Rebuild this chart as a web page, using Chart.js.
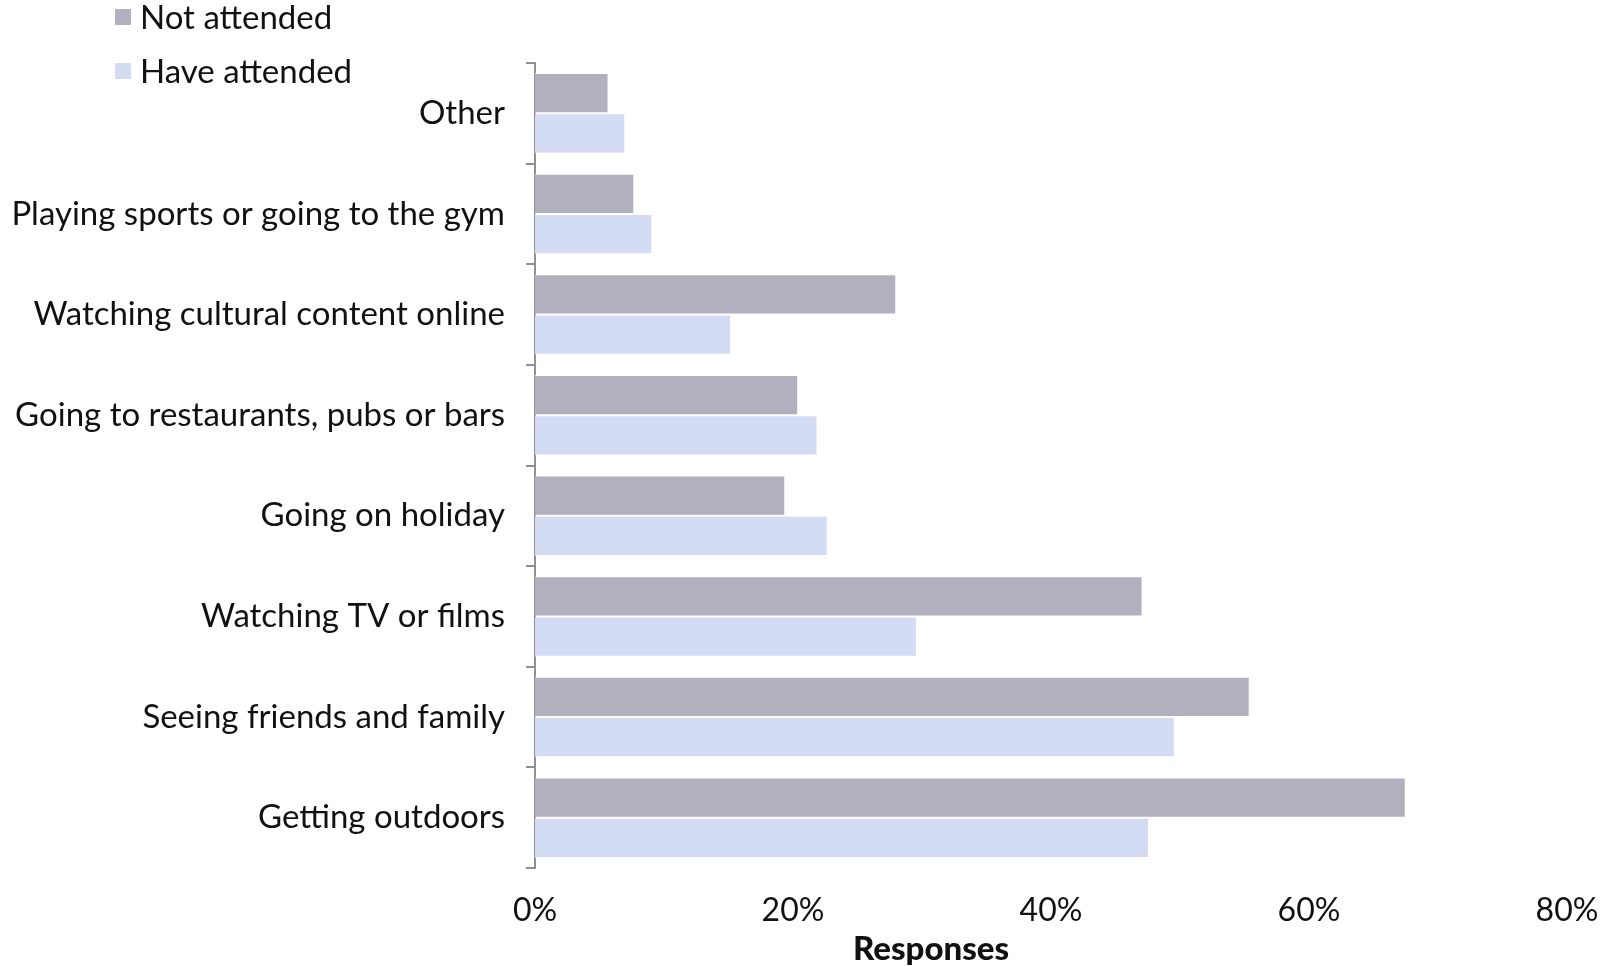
<!DOCTYPE html>
<html>
<head>
<meta charset="utf-8">
<script src="https://cdn.jsdelivr.net/npm/chart.js@4/dist/chart.umd.min.js"></script>
<style>
  html, body { margin: 0; padding: 0; background: #fff; }
  #wrap { width: 1606px; height: 966px; position: relative; }
</style>
</head>
<body>
<div id="wrap"><canvas id="myChart"></canvas></div>
<script>
const categories = [
    'Other',
    'Playing sports or going to the gym',
    'Watching cultural content online',
    'Going to restaurants, pubs or bars',
    'Going on holiday',
    'Watching TV or films',
    'Seeing friends and family',
    'Getting outdoors'
];
const notAttended = [5.7, 7.7, 28.0, 20.4, 19.4, 47.1, 55.4, 67.5];
const haveAttended = [7.0, 9.1, 15.2, 21.9, 22.7, 29.6, 49.6, 47.6];
const xTicks = [0, 20, 40, 60, 80];
const xTitle = 'Responses';

const mainFont = 'Lato, "Noto Sans", sans-serif';

// legend drawn top-left, one item per row
const stackedLegend = {
    id: 'stackedLegend',
    afterDraw(chart) {
        const c = chart.ctx;
        c.save();
        c.font = '33px ' + mainFont;
        c.textBaseline = 'middle';
        c.textAlign = 'left';
        chart.data.datasets.forEach(function (ds, i) {
            let y = 17 + i * 54;
            c.fillStyle = ds.backgroundColor;
            c.fillRect(115, y - 8, 16, 16);
            c.fillStyle = '#111';
            c.fillText(ds.label, 140, y + 1);
        });
        c.restore();
    }
};

// axis title sits left of the plot centre in the original
const axisTitle = {
    id: 'axisTitle',
    afterDraw(chart) {
        const c = chart.ctx;
        c.save();
        c.font = '900 33px ' + mainFont;
        c.textBaseline = 'alphabetic';
        c.textAlign = 'center';
        c.fillStyle = '#111';
        c.fillText(xTitle, 931, 960);
        c.restore();
    }
};

const ctx = document.getElementById('myChart');
const myChart = new Chart(ctx, {
    type: 'bar',
    data: {
        labels: categories,
        datasets: [{
            label: 'Not attended',
            data: notAttended,
            backgroundColor: '#b2b0bf',
            borderColor: 'rgba(255,255,255,0.7)',
            borderWidth: 1,
            categoryPercentage: 0.8,
            barPercentage: 1.0
        }, {
            label: 'Have attended',
            data: haveAttended,
            backgroundColor: '#d4dcf4',
            borderColor: 'rgba(255,255,255,0.7)',
            borderWidth: 1,
            categoryPercentage: 0.8,
            barPercentage: 1.0
        }]
    },
    options: {
        indexAxis: 'y',
        responsive: true,
        maintainAspectRatio: false,
        animation: false,
        layout: { padding: { top: 63, right: 39, left: 0, bottom: 0 } },
        plugins: {
            legend: { display: false },
            tooltip: { enabled: false }
        },
        scales: {
            x: {
                min: 0,
                max: 80,
                afterBuildTicks(scale) {
                    scale.ticks = xTicks.map(v => ({ value: v }));
                },
                afterFit(scale) {
                    scale.height = 98;
                    scale.paddingLeft = 0;
                    scale.paddingRight = 0;
                },
                grid: { display: false },
                border: { display: false },
                ticks: {
                    padding: 15,
                    color: '#111',
                    font: { family: mainFont, size: 32 },
                    callback: v => v + '%'
                }
            },
            y: {
                afterFit(scale) {
                    scale.width = 535;
                    scale.paddingTop = 0;
                    scale.paddingBottom = 0;
                },
                grid: {
                    display: true,
                    drawOnChartArea: false,
                    drawTicks: true,
                    tickLength: 9,
                    offset: true,
                    color: '#909090',
                    lineWidth: 2
                },
                border: { display: true, color: '#909090', width: 2 },
                ticks: {
                    padding: 21,
                    color: '#111',
                    font: { family: mainFont, size: 33 }
                }
            }
        }
    },
    plugins: [stackedLegend, axisTitle]
});
</script>
</body>
</html>
